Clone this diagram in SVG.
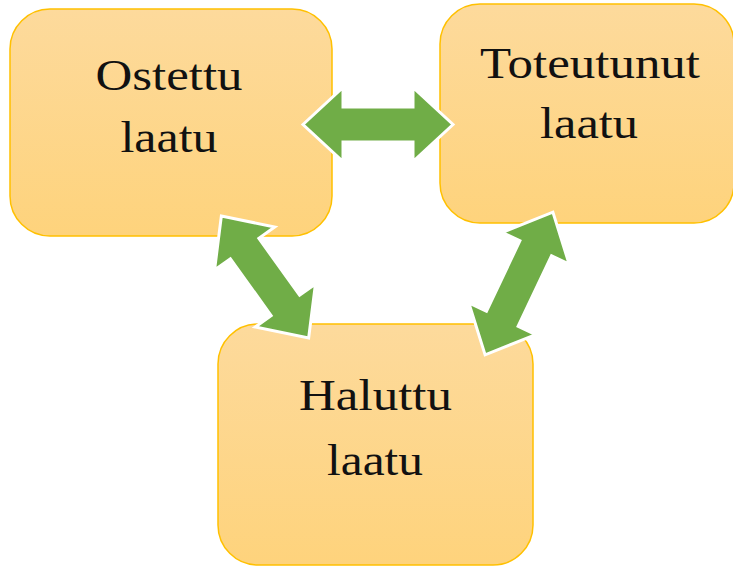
<svg xmlns="http://www.w3.org/2000/svg" width="733" height="567" viewBox="0 0 733 567">
<defs>
<linearGradient id="boxFill" x1="0" y1="0" x2="0" y2="1">
<stop offset="0" stop-color="#FDDA9C"/>
<stop offset="1" stop-color="#FED37C"/>
</linearGradient>
</defs>
<style>
.box{fill:url(#boxFill);stroke:#FFC000;stroke-width:1.5}
.lbl{font-family:"Liberation Serif","Times New Roman",serif;font-size:45px;fill:#111;text-anchor:middle}
.arr{fill:#70AD47;stroke:#FFFFFF;stroke-width:3;stroke-linejoin:miter}
</style>
<rect width="733" height="567" fill="#FFFFFF"/>
<g id="node-ostettu">
<rect class="box" x="10" y="9" width="322" height="227" rx="40" ry="40"/>
<text class="lbl" x="169" y="90" textLength="147" lengthAdjust="spacingAndGlyphs">Ostettu</text>
<text class="lbl" x="169" y="152" textLength="97" lengthAdjust="spacingAndGlyphs">laatu</text>
</g>
<g id="node-toteutunut">
<rect class="box" x="440" y="4" width="294" height="219" rx="40" ry="40"/>
<text class="lbl" x="590" y="78" textLength="220" lengthAdjust="spacingAndGlyphs">Toteutunut</text>
<text class="lbl" x="589" y="138" textLength="98" lengthAdjust="spacingAndGlyphs">laatu</text>
</g>
<g id="node-haluttu">
<rect class="box" x="218" y="324" width="315" height="241" rx="40" ry="40"/>
<text class="lbl" x="375.5" y="410" textLength="153" lengthAdjust="spacingAndGlyphs">Haluttu</text>
<text class="lbl" x="375" y="475" textLength="96" lengthAdjust="spacingAndGlyphs">laatu</text>
</g>
<g id="connectors">
<path class="arr" transform="translate(378,124.5)" d="M-75,0 L-35,-37 L-35,-17.5 L35,-17.5 L35,-37 L75,0 L35,37 L35,17.5 L-35,17.5 L-35,37 Z"/>
<path class="arr" transform="translate(265,277) rotate(54.4)" d="M-75,0 L-35,-37 L-35,-17.5 L35,-17.5 L35,-37 L75,0 L35,37 L35,17.5 L-35,17.5 L-35,37 Z"/>
<path class="arr" transform="translate(519,283.5) rotate(-64.6)" d="M-79,0 L-39,-37 L-39,-17.5 L39,-17.5 L39,-37 L79,0 L39,37 L39,17.5 L-39,17.5 L-39,37 Z"/>
</g>
</svg>
